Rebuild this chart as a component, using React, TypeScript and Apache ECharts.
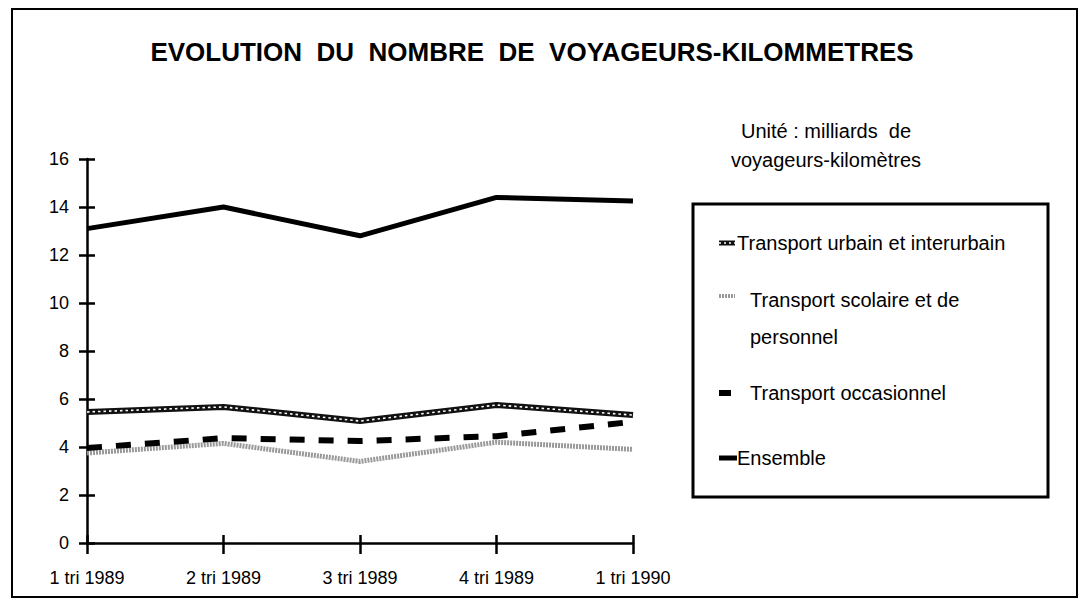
import React, { useEffect, useRef } from "react";
import * as echarts from "echarts";

const categories = ["1 tri 1989", "2 tri 1989", "3 tri 1989", "4 tri 1989", "1 tri 1990"];
const urbain = [5.46, 5.67, 5.08, 5.75, 5.33];
const scolaire = [3.75, 4.15, 3.4, 4.2, 3.9];
const occasionnel = [3.96, 4.37, 4.25, 4.45, 5.05];
const ensemble = [13.1, 14.0, 12.8, 14.4, 14.25];
const titleText = "EVOLUTION  DU  NOMBRE  DE  VOYAGEURS-KILOMMETRES";
const unitLines = ["Unité : milliards  de", "voyageurs-kilomètres"];
const legendNames = ["Transport urbain et interurbain", "Transport scolaire et de\npersonnel", "Transport occasionnel", "Ensemble"];

const FONT = "'Liberation Sans', Arial, Helvetica, sans-serif";

export default function App() {
  const ref = useRef<HTMLDivElement>(null);
  useEffect(() => {
    const chart = echarts.init(ref.current!, null, { renderer: "svg" });
    const grid = { left: 87, right: 449, top: 159, bottom: 65 };
    const txt = { fontFamily: FONT, fontSize: 18, color: "#000" };
    const lf = `20px ${FONT}`;
    const option: any = {
      animation: false,
      backgroundColor: "#fff",
      grid,
      xAxis: [
        {
          type: "category", data: categories, boundaryGap: false,
          axisLine: { lineStyle: { color: "#000", width: 2.5 } },
          axisTick: { length: 11, lineStyle: { color: "#000", width: 2.5 } },
          axisLabel: { ...txt, margin: 26 },
          splitLine: { show: false },
        },
        {
          type: "category", data: categories, boundaryGap: false, position: "bottom",
          axisLine: { show: false },
          axisTick: { inside: true, length: 8, lineStyle: { color: "#000", width: 2.5 } },
          axisLabel: { show: false },
          splitLine: { show: false },
        },
      ],
      yAxis: [
        {
          type: "value", min: 0, max: 16, interval: 2,
          axisLine: { show: true, lineStyle: { color: "#000", width: 2.5 } },
          axisTick: { show: true, length: 8, lineStyle: { color: "#000", width: 2.5 } },
          axisLabel: { ...txt, margin: 18 },
          splitLine: { show: false },
        },
        {
          type: "value", min: 0, max: 16, interval: 2, position: "left",
          axisLine: { show: false },
          axisTick: { show: true, inside: true, length: 8, lineStyle: { color: "#000", width: 2.5 } },
          axisLabel: { show: false },
          splitLine: { show: false },
        },
      ],
      series: [
        {
          name: "Ensemble", type: "line", data: ensemble, symbol: "none",
          lineStyle: { color: "#000", width: 5 },
        },
        {
          name: "Transport urbain et interurbain", type: "line", data: urbain, symbol: "none",
          lineStyle: { color: "#111", width: 6 },
        },
        {
          name: "urbain-overlay", type: "line", data: urbain, symbol: "none", silent: true,
          lineStyle: { color: "#fff", width: 1.6, type: [2.5, 3] },
        },
        {
          name: "Transport scolaire et de personnel", type: "line", data: scolaire, symbol: "none",
          lineStyle: { color: "#999", width: 5, type: [2, 1] },
        },
        {
          name: "Transport occasionnel", type: "line", data: occasionnel, symbol: "none",
          lineStyle: { color: "#000", width: 6, type: [15, 14] },
        },
      ],
      graphic: [
        { type: "rect", shape: { x: 12, y: 9, width: 1065, height: 588 }, style: { fill: "none", stroke: "#000", lineWidth: 2 }, z: -1 },
        { type: "text", x: 532, y: 52, style: { text: titleText, font: `bold 26px ${FONT}`, fill: "#000", align: "center", verticalAlign: "middle" } },
        { type: "text", x: 826, y: 131, style: { text: unitLines[0], font: lf, fill: "#000", align: "center", verticalAlign: "middle" } },
        { type: "text", x: 826, y: 160, style: { text: unitLines[1], font: lf, fill: "#000", align: "center", verticalAlign: "middle" } },
        { type: "rect", shape: { x: 693, y: 204, width: 355, height: 293 }, style: { fill: "none", stroke: "#000", lineWidth: 3 } },
        // legend symbols
        { type: "line", shape: { x1: 719, y1: 243, x2: 735, y2: 243 }, style: { stroke: "#111", lineWidth: 5 } },
        { type: "line", shape: { x1: 719, y1: 243, x2: 735, y2: 243 }, style: { stroke: "#fff", lineWidth: 1.5, lineDash: [2, 3] } },
        { type: "line", shape: { x1: 719, y1: 296, x2: 735, y2: 296 }, style: { stroke: "#999", lineWidth: 4, lineDash: [2, 1] } },
        { type: "line", shape: { x1: 719, y1: 393, x2: 731, y2: 393 }, style: { stroke: "#000", lineWidth: 6 } },
        { type: "line", shape: { x1: 719, y1: 458, x2: 737, y2: 458 }, style: { stroke: "#000", lineWidth: 5 } },
        // legend texts
        { type: "text", x: 737, y: 243, style: { text: legendNames[0], font: lf, fill: "#000", verticalAlign: "middle" } },
        { type: "text", x: 750, y: 300, style: { text: legendNames[1].split("\n")[0], font: lf, fill: "#000", verticalAlign: "middle" } },
        { type: "text", x: 750, y: 337, style: { text: legendNames[1].split("\n")[1], font: lf, fill: "#000", verticalAlign: "middle" } },
        { type: "text", x: 750, y: 393, style: { text: legendNames[2], font: lf, fill: "#000", verticalAlign: "middle" } },
        { type: "text", x: 737, y: 458, style: { text: legendNames[3], font: lf, fill: "#000", verticalAlign: "middle" } },
      ],
    };
    chart.setOption(option);
    return () => chart.dispose();
  }, []);
  return <div ref={ref} style={{ position: "absolute", left: 0, top: 0, width: 1082, height: 608 }} />;
}
